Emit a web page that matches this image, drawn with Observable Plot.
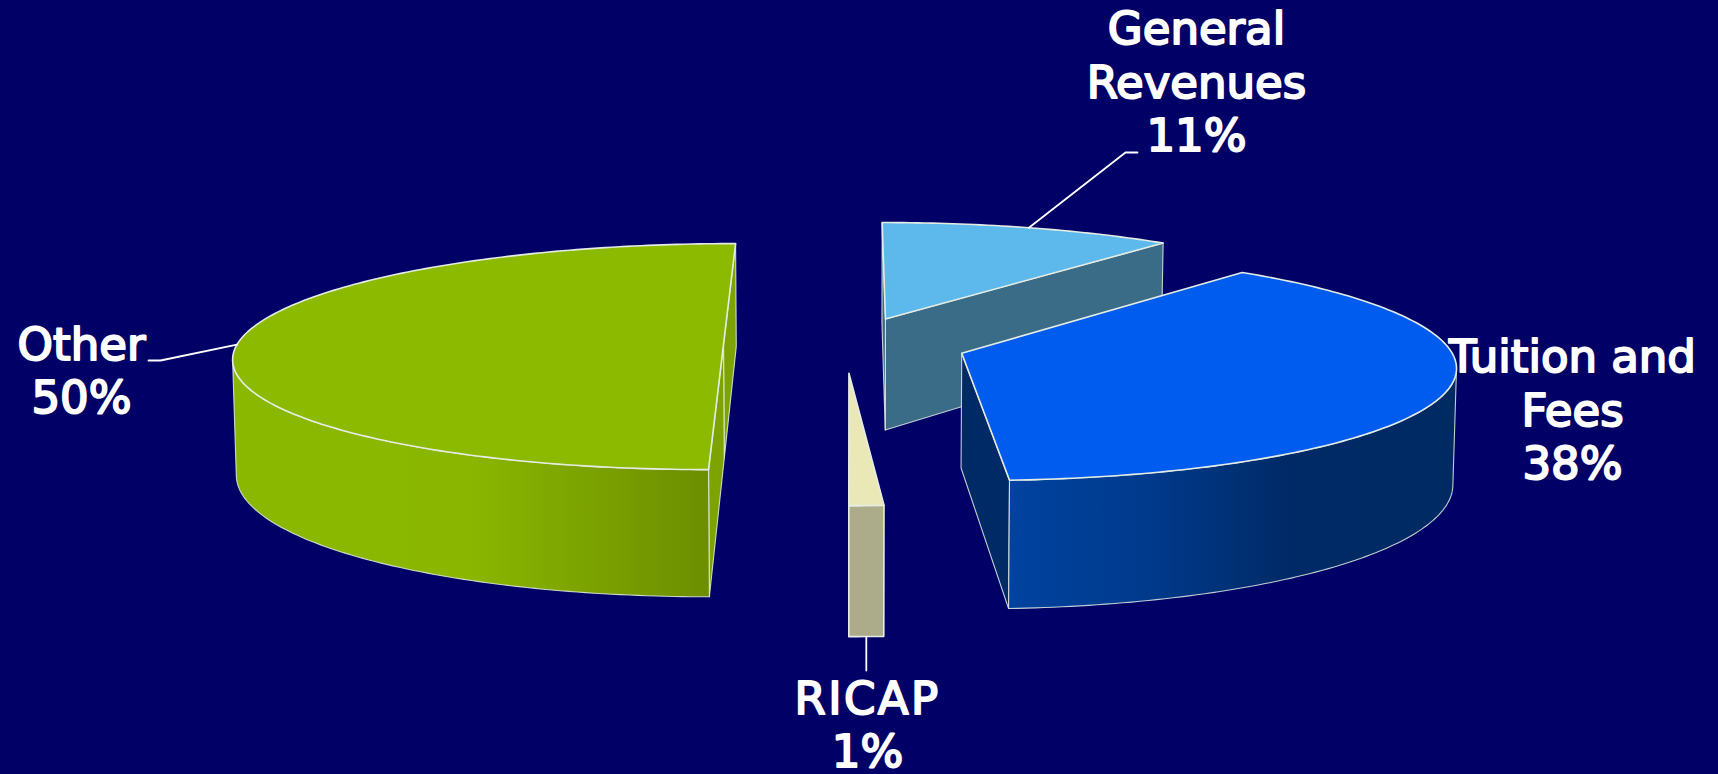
<!DOCTYPE html>
<html>
<head>
<meta charset="utf-8">
<style>
html,body{margin:0;padding:0;background:#000066;overflow:hidden}
svg{display:block}
</style>
<script src="https://cdn.jsdelivr.net/npm/d3@7"></script>
<script src="https://cdn.jsdelivr.net/npm/@observablehq/plot@0.6"></script>
</head>
<body>
<script>
// Data
const categories = ["General Revenues", "Tuition and Fees", "RICAP", "Other"];
const shares = [11, 38, 1, 50];
const labelLines = [["General", "Revenues", "11%"], ["Tuition and", "Fees", "38%"], ["RICAP", "1%"], ["Other", "50%"]];

// Style and layout
const bg = "#000066";
const topColors = ["#5DB8EC", "#005CEE", "#EBE8B8", "#8CBA00"];
const innerColors = ["#3A6C88", "#002A66", "#ACAB8A", "#7DA300"];
const wallColors = ["#3A6C88", "url(#wallBlue)", "#ACAB8A", "url(#wallGreen)"];
const edge = "#E4ECE4";
const labelAnchors = [[1196, 80], [1572, 408], [867, 723], [81, 369]];
const leaderEnds = [[[1125, 152], [1137, 152]], null, [[null, 670]], [[160, 360], [148, 360]]];

// Perspective plane: vanishing point, scale, foreshortening, extrusion, explosion
const vx = 849.5, vy = -712, horizon = 1068, scaleX = 492, k = 0.107, depth = 115, recede = 0.006;
const pieX = -0.01, pieZ = -0.105, explode = 0.25;

const arcs = d3.pie().sort(null)(shares);
function project(X, Z, drop = 0) {
  const w = 1 / (1 - k * Z);
  return {x: vx + scaleX * X * w * (1 - recede * drop / depth), y: vy + (horizon + drop) * w};
}
function center(a) {
  const m = (a.startAngle + a.endAngle) / 2;
  return [pieX + explode * Math.sin(m), pieZ - explode * Math.cos(m)];
}
function rimPoint(a, t, drop = 0) {
  const [cx, cz] = center(a);
  return project(cx + Math.sin(t), cz - Math.cos(t), drop);
}
function apex(a, drop = 0) {
  const [cx, cz] = center(a);
  return project(cx, cz, drop);
}
function angles(a) {
  const n = Math.max(4, Math.ceil((a.endAngle - a.startAngle) * 60));
  return d3.range(n + 1).map(i => a.startAngle + (a.endAngle - a.startAngle) * i / n);
}
const rim = (a, drop = 0) => angles(a).map(t => rimPoint(a, t, drop));
// The outer wall shows only between the silhouette point of the rim and the part nearest the viewer
function visibleAngles(a) {
  const ts = angles(a);
  const xs = ts.map(t => rimPoint(a, t).x);
  const m = (a.startAngle + a.endAngle) / 2;
  if (a.endAngle - a.startAngle < 0.2) return ts;
  return m > Math.PI ? ts.slice(0, d3.minIndex(xs) + 1) : ts.slice(d3.maxIndex(xs));
}
const closed = pts => [...pts, pts[0]];
const topFace = a => closed([apex(a), ...rim(a)]);
const wallFace = a => {
  const ts = visibleAngles(a);
  return closed([...ts.map(t => rimPoint(a, t)), ...ts.map(t => rimPoint(a, t, depth)).reverse()]);
};
const startFace = a => closed([apex(a), rimPoint(a, a.startAngle), rimPoint(a, a.startAngle, depth), apex(a, depth)]);
const endFace = a => closed([apex(a), rimPoint(a, a.endAngle), rimPoint(a, a.endAngle, depth), apex(a, depth)]);

const face = (pts, fill, strokeWidth = 1.1, strokeOpacity = 0.85) =>
  Plot.line(pts, {x: "x", y: "y", fill, stroke: edge, strokeWidth, strokeOpacity, strokeLinejoin: "round"});

const [gen, tui, ric, oth] = arcs;
const faces = [
  // General Revenues: far slice, cut faces only
  face(endFace(gen), innerColors[0]),
  face(startFace(gen), innerColors[0]),
  face(topFace(gen), topColors[0], 1.6, 1),
  // Tuition and Fees
  face(endFace(tui), innerColors[1]),
  face(wallFace(tui), wallColors[1]),
  face(topFace(tui), topColors[1], 1.6, 1),
  // RICAP
  face(wallFace(ric), wallColors[2], 1.6, 1),
  face(topFace(ric), topColors[2], 1.6, 1),
  // Other
  face(endFace(oth), innerColors[3]),
  face(startFace(oth), innerColors[3]),
  face(wallFace(oth), wallColors[3]),
  face(topFace(oth), topColors[3], 1.6, 1)
];

// Leader lines start on the rim at each slice's mid angle
const leaders = arcs.map((a, i) => {
  if (!leaderEnds[i]) return null;
  const m = (a.startAngle + a.endAngle) / 2;
  const start = i === 2 ? rimPoint(a, m, depth) : rimPoint(a, m);
  return [start, ...leaderEnds[i].map(([x, y]) => ({x: x ?? start.x, y}))];
}).filter(Boolean).map(pts =>
  Plot.line(pts, {x: "x", y: "y", stroke: "white", strokeWidth: 1.8}));

const labelData = categories.map((name, i) => ({
  name, text: labelLines[i].join("\n"), x: labelAnchors[i][0], y: labelAnchors[i][1]
}));

function gradients() {
  const defs = d3.create("svg:defs");
  const add = (id, x1, x2, stops) => {
    const g = defs.append("linearGradient").attr("id", id)
      .attr("gradientUnits", "userSpaceOnUse")
      .attr("x1", x1).attr("x2", x2).attr("y1", 0).attr("y2", 0);
    stops.forEach(([o, c]) => g.append("stop").attr("offset", o).attr("stop-color", c));
  };
  add("wallGreen", 232, 710, [[0, "#8AB800"], [0.5, "#8AB600"], [1, "#6C8E00"]]);
  add("wallBlue", 1012, 1458, [[0, "#00429F"], [0.3, "#003A8C"], [0.62, "#002A66"], [1, "#002A62"]]);
  return defs.node();
}

const chart = Plot.plot({
  width: 1718,
  height: 774,
  margin: 0,
  x: {domain: [0, 1718], range: [0, 1718], axis: null},
  y: {domain: [0, 774], range: [0, 774], axis: null},
  style: {background: bg},
  marks: [
    gradients,
    ...faces,
    ...leaders,
    Plot.text(labelData, {
      x: "x", y: "y", text: "text",
      fontFamily: "DejaVu Sans", fontSize: 45, lineHeight: 1.19,
      fill: "white", stroke: "white", strokeWidth: 2,
      textAnchor: "middle", lineAnchor: "middle"
    })
  ]
});
document.body.appendChild(chart);
d3.select(chart).selectAll("tspan").filter(function () { return this.textContent === "RICAP"; })
  .style("letter-spacing", "2.4px");
</script>
</body>
</html>
